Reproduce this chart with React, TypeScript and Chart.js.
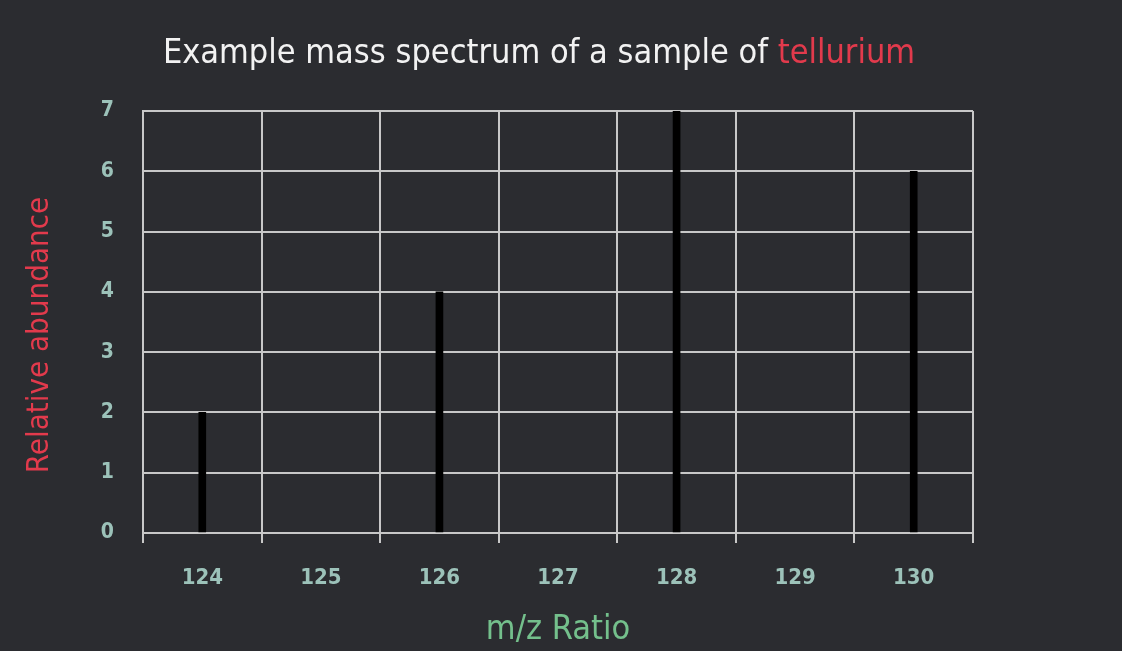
import React, { useEffect, useRef } from "react";
import { Chart, registerables } from "chart.js";

Chart.register(...registerables);

const categories = ["124", "125", "126", "127", "128", "129", "130"];
const abundance = [2, null, 4, null, 7, null, 6];
const yTicks = [0, 1, 2, 3, 4, 5, 6, 7];
const titleMain = "Example mass spectrum of a sample of ";
const titleHighlight = "tellurium";
const xTitle = "m/z Ratio";
const yTitle = "Relative abundance";

const BG = "#2b2c30";
const GRID = "#c8c8c8";
const TICK = "#9cc2b9";
const RED = "#e23a4c";
const GREEN = "#74c08c";
const FONT = "'DejaVu Sans Condensed', 'Liberation Sans Narrow', sans-serif";

const titlePlugin = {
  id: "twoColourTitle",
  afterDraw(chart: any) {
    const ctx = chart.ctx;
    ctx.save();
    ctx.font = `34px ${FONT}`;
    ctx.textBaseline = "middle";
    ctx.textAlign = "left";
    const w1 = ctx.measureText(titleMain).width;
    const w2 = ctx.measureText(titleHighlight).width;
    const cx = 539;
    const y = 54;
    const x = cx - (w1 + w2) / 2;
    ctx.fillStyle = "#f2f2f2";
    ctx.fillText(titleMain, x, y);
    ctx.fillStyle = RED;
    ctx.fillText(titleHighlight, x + w1, y);

    // y-axis title
    ctx.font = `31px ${FONT}`;
    ctx.fillStyle = RED;
    ctx.textAlign = "center";
    ctx.translate(40, 335);
    ctx.rotate(-Math.PI / 2);
    ctx.fillText(yTitle, 0, 0);
    ctx.restore();
  },
};

export default function App() {
  const ref = useRef<HTMLCanvasElement>(null);
  useEffect(() => {
    document.body.style.margin = "0";
    document.body.style.background = BG;
    const chart = new Chart(ref.current!, {
      type: "bar",
      data: {
        labels: categories,
        datasets: [
          {
            data: abundance,
            backgroundColor: "#000000",
            barThickness: 7,
          },
        ],
      },
      options: {
        animation: false,
        responsive: false,
        maintainAspectRatio: false,
        layout: { padding: { top: 111, right: 149, left: 0, bottom: 0 } },
        plugins: { legend: { display: false }, tooltip: { enabled: false }, title: { display: false } },
        scales: {
          x: {
            grid: { color: GRID, lineWidth: 2, offset: true, drawTicks: true, tickLength: 10, tickColor: GRID },
            border: { color: GRID, width: 2 },
            ticks: { color: TICK, font: { family: FONT, size: 22, weight: "bold" }, padding: 22 },
            title: { display: true, text: xTitle, color: GREEN, font: { family: FONT, size: 34 }, padding: { top: 0, bottom: 0 } },
            afterFit: (s: any) => { s.height = 651 - 533; },
          },
          y: {
            min: 0,
            max: 7,
            afterBuildTicks: (s: any) => { s.ticks = yTicks.map((v) => ({ value: v })); },
            grid: { color: GRID, lineWidth: 2, drawTicks: false },
            border: { color: GRID, width: 2 },
            ticks: { color: TICK, font: { family: FONT, size: 21, weight: "bold" }, padding: 29 },
            title: { display: false, text: yTitle },
            afterFit: (s: any) => { s.width = 143; },
          },
        },
      },
      plugins: [titlePlugin],
    });
    return () => chart.destroy();
  }, []);
  return (
    <div style={{ width: 1122, height: 651, background: BG }}>
      <canvas ref={ref} width={1122} height={651} style={{ display: "block" }} />
    </div>
  );
}
